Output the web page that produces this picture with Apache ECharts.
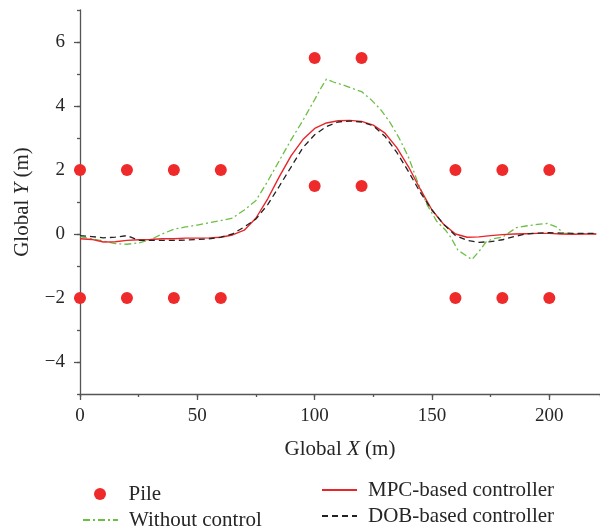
<!DOCTYPE html>
<html>
<head>
<meta charset="utf-8">
<script src="https://cdn.jsdelivr.net/npm/echarts@6/dist/echarts.min.js"></script>
<style>
  html, body { margin: 0; padding: 0; background: #fff; }
  #chart { width: 600px; height: 531px; }
</style>
</head>
<body>
<div id="chart"></div>
<script>
// pile positions
const pileX = [0, 20, 40, 60, 100, 120, 100, 120, 160, 180, 200, 0, 20, 40, 60, 160, 180, 200]
const pileY = [2, 2, 2, 2, 5.5, 5.5, 1.5, 1.5, 2, 2, 2, -2, -2, -2, -2, -2, -2, -2]

// MPC and DOB paths share the same x samples
const pathX = [0, 5, 10, 15, 20, 25, 30, 35, 40, 45, 50, 55, 60, 65, 70, 75, 80, 85, 90, 95,
  100, 105, 110, 115, 120, 125, 130, 135, 140, 145, 150, 155, 160, 165, 170, 175, 180, 185,
  190, 195, 200, 205, 210, 215, 220]
const mpcY = [-0.15, -0.17, -0.25, -0.24, -0.2, -0.18, -0.17, -0.15, -0.15, -0.13, -0.13, -0.12,
  -0.1, -0.03, 0.12, 0.5, 1.1, 1.8, 2.45, 2.95, 3.3, 3.47, 3.54, 3.55, 3.52, 3.4, 3.15, 2.7,
  2.1, 1.4, 0.75, 0.3, 0.0, -0.1, -0.09, -0.05, -0.02, 0.0, 0.01, 0.02, 0.02, 0.0, -0.01, 0.0, 0.0]
const dobY = [-0.05, -0.08, -0.12, -0.1, -0.05, -0.2, -0.2, -0.2, -0.2, -0.19, -0.17, -0.15,
  -0.1, 0.0, 0.22, 0.47, 0.92, 1.5, 2.1, 2.7, 3.1, 3.36, 3.5, 3.53, 3.5, 3.38, 3.05, 2.55,
  1.95, 1.3, 0.75, 0.3, -0.05, -0.2, -0.26, -0.24, -0.18, -0.08, 0.0, 0.03, 0.04, 0.03, 0.02, 0.02, 0.02]

// without control path
const freeX = [0, 5, 10, 15, 20, 25, 30, 35, 40, 45, 50, 55, 60, 65, 70, 75, 80, 85, 90, 95, 100,
  103, 105, 108, 112, 116, 120, 124, 128, 132, 136, 140, 144, 148, 152, 156, 158, 161, 164, 167,
  170, 173, 176, 180, 183, 186, 190, 195, 199, 203, 206, 210, 215, 220]
const freeY = [-0.08, -0.15, -0.22, -0.3, -0.32, -0.28, -0.18, 0.0, 0.15, 0.22, 0.28, 0.35, 0.42,
  0.5, 0.75, 1.05, 1.65, 2.3, 2.95, 3.55, 4.2, 4.6, 4.84, 4.75, 4.66, 4.55, 4.45, 4.2, 3.9, 3.5,
  3.0, 2.4, 1.6, 0.9, 0.4, 0.1, -0.1, -0.5, -0.65, -0.8, -0.55, -0.25, -0.15, -0.1, 0.05, 0.2,
  0.25, 0.3, 0.33, 0.22, 0.03, 0.0, 0.01, 0.0]

const font = 'Liberation Serif'
const axisColor = '#555'
const textColor = '#262626'
const pileColor = '#ee2a2a'
const zip = (xs, ys) => xs.map((x, i) => [x, ys[i]])
const minus = v => (v < 0 ? '\u2212' + Math.abs(v) : String(v))

// one legend per entry so the two columns line up like the original
const legendItem = (name, left, top, iconStyle) => ({
  data: [name],
  left: left,
  top: top,
  padding: 0,
  itemWidth: 35,
  itemHeight: 12,
  itemStyle: iconStyle,
  textStyle: { fontFamily: font, fontSize: 21, color: textColor, lineHeight: 24, padding: [0, 0, 0, 6] }
})

const nameStyle = {
  fontFamily: font, fontSize: 21, color: textColor,
  rich: { i: { fontFamily: font, fontSize: 21, color: textColor, fontStyle: 'italic' } }
}

const chart = echarts.init(document.getElementById('chart'))
chart.setOption({
  animation: false,
  textStyle: { fontFamily: font },
  legend: [
    legendItem('Pile', 94, 482, { color: pileColor, opacity: 1 }),
    legendItem('Without control', 82, 508, { opacity: 0 }),
    legendItem('MPC-based controller', 321, 478, { opacity: 0 }),
    legendItem('DOB-based controller', 321, 504, { opacity: 0 })
  ],
  grid: [
    { left: 80, top: 10, width: 520, height: 384 },
    { left: 80, top: 42, width: 469.2, height: 320 }
  ],
  xAxis: [
    {
      type: 'value', gridIndex: 0, min: 0, max: 221.6, interval: 25,
      name: 'Global {i|X} (m)',
      nameLocation: 'middle',
      nameGap: 45,
      nameTextStyle: nameStyle,
      axisLine: { onZero: false, lineStyle: { color: axisColor, width: 1.3 } },
      axisTick: { length: 3, lineStyle: { color: axisColor, width: 1.3 } },
      axisLabel: { show: false },
      splitLine: { show: false }
    },
    {
      type: 'value', gridIndex: 1, min: 0, max: 200, interval: 50,
      offset: 32,
      axisLine: { show: false, onZero: false },
      axisTick: { show: true, length: 6, lineStyle: { color: axisColor, width: 1.3 } },
      axisLabel: { margin: 13, fontFamily: font, fontSize: 19, color: textColor, formatter: minus },
      splitLine: { show: false }
    }
  ],
  yAxis: [
    {
      type: 'value', gridIndex: 0, min: -5, max: 7, interval: 1,
      name: 'Global {i|Y} (m)',
      nameLocation: 'middle',
      nameGap: 47,
      nameTextStyle: nameStyle,
      axisLine: { onZero: false, lineStyle: { color: axisColor, width: 1.3 } },
      axisTick: { length: 3, lineStyle: { color: axisColor, width: 1.3 } },
      axisLabel: { show: false },
      splitLine: { show: false }
    },
    {
      type: 'value', gridIndex: 1, min: -4, max: 6, interval: 2,
      axisLine: { show: false, onZero: false },
      axisTick: { show: true, length: 6, lineStyle: { color: axisColor, width: 1.3 } },
      axisLabel: { margin: 15, fontFamily: font, fontSize: 19, color: textColor, formatter: minus },
      splitLine: { show: false }
    }
  ],
  series: [
    {
      name: 'Pile', type: 'scatter', xAxisIndex: 0, yAxisIndex: 0,
      symbol: 'circle', symbolSize: 12,
      itemStyle: { color: pileColor, opacity: 1 },
      data: zip(pileX, pileY)
    },
    {
      name: 'Without control', type: 'line', xAxisIndex: 0, yAxisIndex: 0,
      symbol: 'none',
      lineStyle: { color: '#6cbf45', width: 1.3, type: [7, 3, 2, 3] },
      itemStyle: { color: '#6cbf45' },
      data: zip(freeX, freeY)
    },
    {
      name: 'MPC-based controller', type: 'line', xAxisIndex: 0, yAxisIndex: 0,
      symbol: 'none',
      lineStyle: { color: '#e8262a', width: 1.4 },
      itemStyle: { color: '#e8262a' },
      data: zip(pathX, mpcY)
    },
    {
      name: 'DOB-based controller', type: 'line', xAxisIndex: 0, yAxisIndex: 0,
      symbol: 'none',
      lineStyle: { color: '#222', width: 1.3, type: [6, 4] },
      itemStyle: { color: '#222' },
      data: zip(pathX, dobY)
    }
  ]
})
</script>
</body>
</html>
